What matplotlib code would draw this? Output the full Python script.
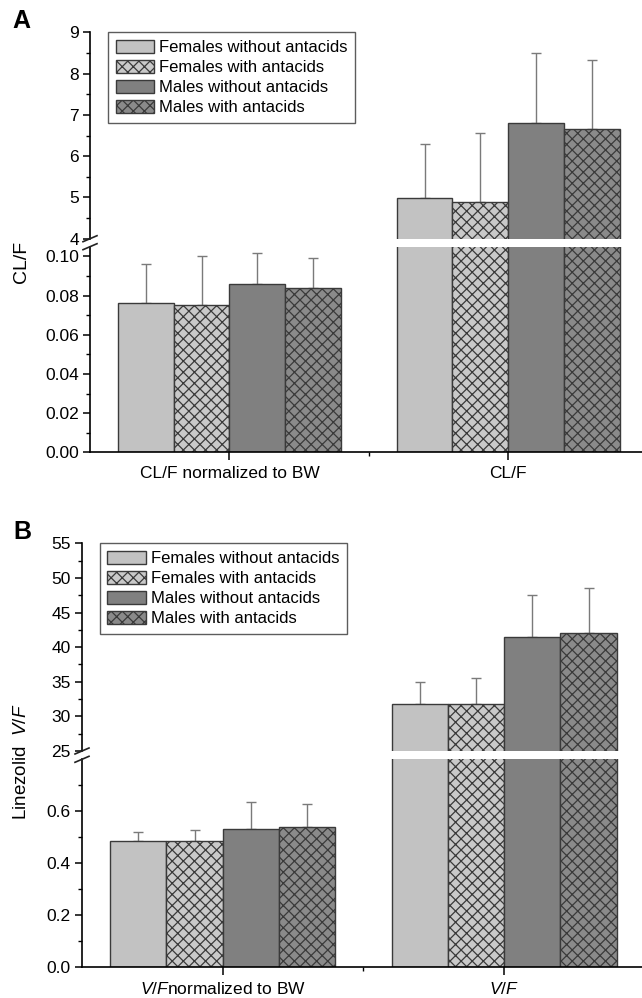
import numpy as np
import matplotlib
matplotlib.use("Agg")
import matplotlib.pyplot as plt
from matplotlib.ticker import MultipleLocator, FormatStrFormatter, FixedLocator

plt.rcParams['font.family'] = ['Liberation Sans', 'DejaVu Sans']
plt.rcParams['mathtext.fontset'] = 'custom'
plt.rcParams['mathtext.rm'] = 'Liberation Sans'
plt.rcParams['mathtext.it'] = 'Liberation Sans:italic'
plt.rcParams['hatch.linewidth'] = 0.9

# data
series = ["Females without antacids", "Females with antacids",
          "Males without antacids", "Males with antacids"]
groups_a = ["CL/F normalized to BW", "CL/F"]
groups_b = [r"$\mathit{V/F}$normalized to BW", r"$\mathit{V/F}$"]

a_norm = [0.076, 0.075, 0.086, 0.084]
a_norm_err = [0.020, 0.025, 0.016, 0.015]
a_cl = [4.99, 4.90, 6.80, 6.66]
a_cl_err = [1.31, 1.66, 1.71, 1.66]

b_norm = [0.486, 0.486, 0.533, 0.540]
b_norm_err = [0.035, 0.042, 0.103, 0.089]
b_vf = [31.8, 31.8, 41.5, 42.1]
b_vf_err = [3.2, 3.7, 6.0, 6.4]

facecolors = ['#c2c2c2', '#c9c9c9', '#808080', '#8a8a8a']
hatches = [None, 'xxx', None, 'xxx']
edge = '#3a3a3a'
W, H = 642, 998

fig = plt.figure(figsize=(W / 100, H / 100), dpi=100)


def px_axes(left, top, right, bottom):
    return fig.add_axes([left / W, 1 - bottom / H, (right - left) / W, (bottom - top) / H])


def draw_bars(ax, vals, errs, label=True):
    # vals / errs: one list per group, each with the 4 series
    width = 0.2
    x = np.arange(len(vals))
    for i in range(4):
        heights = [v[i] for v in vals]
        e = [er[i] for er in errs]
        pos = x + (i - 1.5) * width
        ax.bar(pos, heights, width, color=facecolors[i], edgecolor=edge, hatch=hatches[i],
               linewidth=1.0, label=series[i] if label else None, zorder=2)
        ax.errorbar(pos, heights, yerr=[np.zeros(len(e)), e], fmt='none', ecolor='#7a7a7a',
                    elinewidth=1.0, capsize=3.5, capthick=1.0, zorder=1)


def style(ax, top_part):
    for s in ['top', 'right']:
        ax.spines[s].set_visible(False)
    ax.spines['left'].set_linewidth(1.2)
    ax.spines['bottom'].set_linewidth(1.2)
    ax.tick_params(axis='y', which='major', direction='out', length=5, width=1.1, labelsize=12.5, pad=3)
    ax.tick_params(axis='y', which='minor', direction='out', length=3, width=1.0)
    if top_part:
        ax.spines['bottom'].set_visible(False)
        ax.tick_params(axis='x', which='both', bottom=False, labelbottom=False)
    else:
        ax.tick_params(axis='x', which='major', direction='out', length=6, width=1.1, labelsize=12.5, pad=4)
        ax.tick_params(axis='x', which='minor', direction='out', length=3, width=1.0)
        ax.xaxis.set_minor_locator(FixedLocator([0.5]))


def break_marks(ax, y):
    bb = ax.get_position()
    dx = 7 / (bb.width * W)
    dy = 3 / (bb.height * H)
    ax.plot([-dx, dx], [y - dy, y + dy], transform=ax.transAxes, color='#222222',
            lw=1.2, clip_on=False, zorder=5)


# Panel A
a_top = px_axes(90, 32.3, 642, 238.7)
a_bot = px_axes(90, 246.7, 642, 452.3)
for ax in (a_top, a_bot):
    draw_bars(ax, [a_norm, a_cl], [a_norm_err, a_cl_err], label=ax is a_top)
    ax.set_xlim(-0.5, 1.48)
a_top.set_ylim(4, 9)
a_top.yaxis.set_major_locator(MultipleLocator(1))
a_top.yaxis.set_minor_locator(MultipleLocator(0.5))
a_bot.set_ylim(0, 0.105)
a_bot.yaxis.set_major_locator(FixedLocator([0, 0.02, 0.04, 0.06, 0.08, 0.10]))
a_bot.yaxis.set_minor_locator(FixedLocator([0.01, 0.03, 0.05, 0.07, 0.09]))
a_bot.yaxis.set_major_formatter(FormatStrFormatter('%.2f'))
a_bot.set_xticks([0, 1])
a_bot.set_xticklabels(groups_a)
style(a_top, True)
style(a_bot, False)
break_marks(a_top, 0)
break_marks(a_bot, 1)

# Panel B
b_top = px_axes(82, 543.3, 642, 751)
b_bot = px_axes(82, 759.3, 642, 967.3)
for ax in (b_top, b_bot):
    draw_bars(ax, [b_norm, b_vf], [b_norm_err, b_vf_err], label=ax is b_top)
    ax.set_xlim(-0.5, 1.49)
b_top.set_ylim(25, 55)
b_top.yaxis.set_major_locator(MultipleLocator(5))
b_top.yaxis.set_minor_locator(MultipleLocator(2.5))
b_bot.set_ylim(0, 0.8)
b_bot.yaxis.set_major_locator(FixedLocator([0, 0.2, 0.4, 0.6]))
b_bot.yaxis.set_minor_locator(FixedLocator([0.1, 0.3, 0.5, 0.7]))
b_bot.yaxis.set_major_formatter(FormatStrFormatter('%.1f'))
b_bot.set_xticks([0, 1])
b_bot.set_xticklabels(groups_b)
style(b_top, True)
style(b_bot, False)
break_marks(b_top, 0)
break_marks(b_bot, 1)

for ax, x0 in ((a_top, 0.033), (b_top, 0.032)):
    leg = ax.legend(loc='upper left', bbox_to_anchor=(x0, 1.0), fontsize=12, frameon=True,
                    fancybox=False, edgecolor='#333333', borderpad=0.45, labelspacing=0.28,
                    handlelength=2.3, handleheight=0.85, handletextpad=0.3, borderaxespad=0)
    leg.get_frame().set_linewidth(1.0)

fig.text(21 / W, 1 - 21 / H, 'A', fontsize=18, fontweight='bold', ha='center', va='center')
fig.text(22 / W, 1 - 532 / H, 'B', fontsize=18, fontweight='bold', ha='center', va='center')
fig.text(22 / W, 1 - 262 / H, 'CL/F', fontsize=14, rotation=90, ha='center', va='center')
fig.text(22 / W, 1 - 762 / H, r'Linezolid  $\mathit{V/F}$', fontsize=13.5, rotation=90,
         ha='center', va='center')

fig.savefig('out.png', dpi=100)
